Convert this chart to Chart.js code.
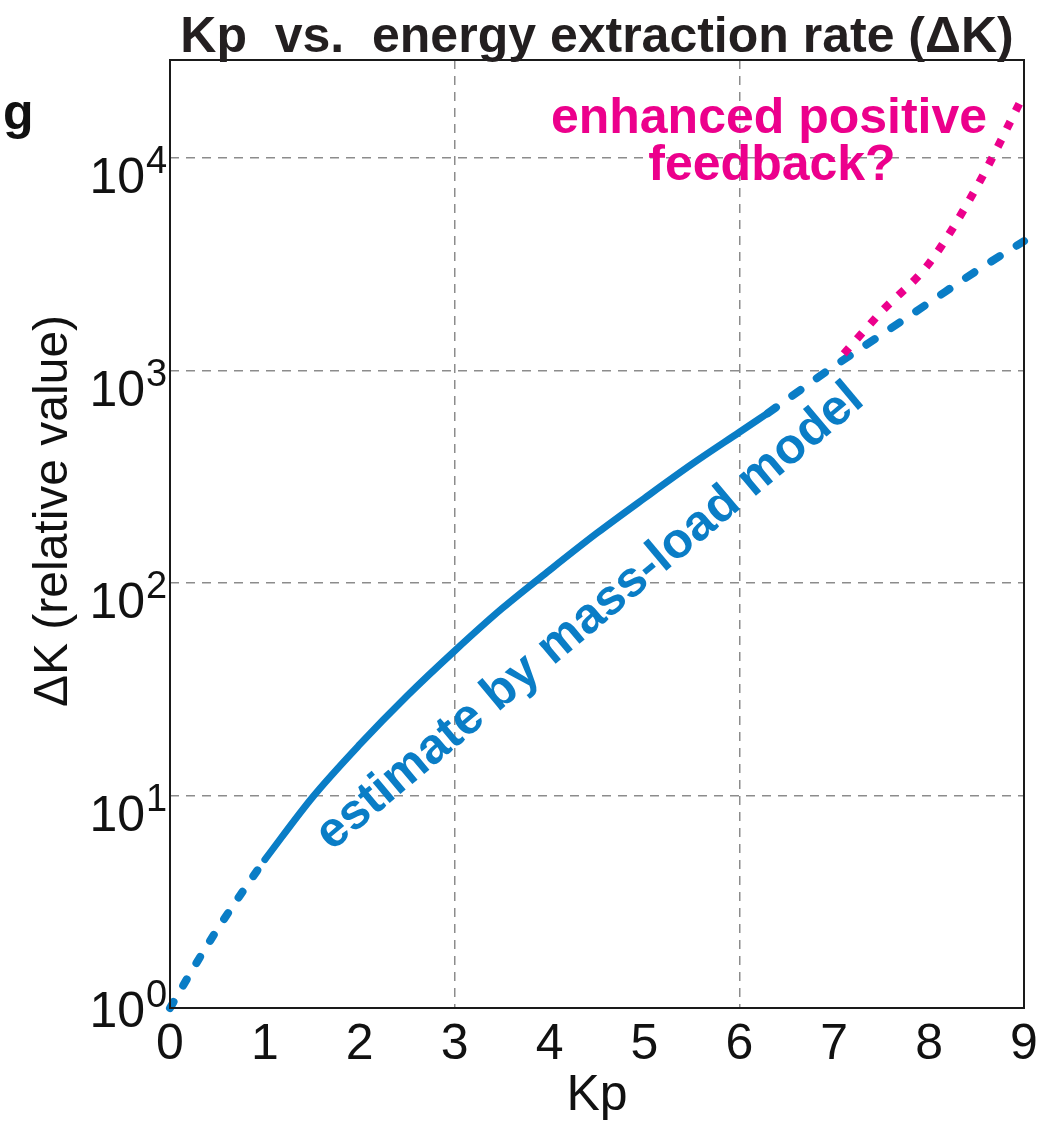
<!DOCTYPE html>
<html>
<head>
<meta charset="utf-8">
<title>Kp vs. energy extraction rate</title>
<script src="https://cdn.jsdelivr.net/npm/chart.js@4.4.1/dist/chart.umd.min.js"></script>
<style>
  html, body { margin: 0; padding: 0; background: #fff; }
  canvas { display: block; }
</style>
</head>
<body>
<canvas id="kpChart" width="1055" height="1121"></canvas>
<script>
/* Kp index vs. relative energy extraction rate dK (log axis) */
const KP_TICKS = [0, 1, 2, 3, 4, 5, 6, 7, 8, 9];
const DK_TICKS = [1, 10, 100, 1000, 10000];

// mass-load model estimate, split into its dashed / solid / dashed pieces
const KP_LOW  = [0, 0.25, 0.5, 0.75, 1.0];
const DK_LOW  = [1.0, 1.55, 2.35, 3.45, 5.0];
const KP_MID  = [1.0, 1.5, 2.0, 2.5, 3.0, 3.5, 4.0, 4.5, 5.0, 5.5, 6.0, 6.3];
const DK_MID  = [5.0, 9.8, 17.4, 29.5, 48, 76, 115, 172, 251, 363, 513, 631];
const KP_HIGH = [6.3, 7.0, 7.5, 8.0, 8.5, 9.0];
const DK_HIGH = [631, 1050, 1480, 2090, 2950, 4070];

// enhanced positive feedback branch
const KP_FEED = [7.1, 7.5, 8.0, 8.5, 9.0];
const DK_FEED = [1200, 1900, 3200, 7300, 20000];

const BLUE = "#0a7dc6";
const PINK = "#ec008c";
const GRID = "#8c8c8c";
const INK  = "#111";
const FONT = "'Liberation Sans', Arial, Helvetica, sans-serif";

const pts = (xs, ys) => xs.map((x, i) => ({ x, y: ys[i] }));
const line = (data, color, width, dash, cap) => ({
  data, borderColor: color, backgroundColor: color, borderWidth: width,
  borderDash: dash, borderCapStyle: cap, pointRadius: 0, pointHoverRadius: 0,
  cubicInterpolationMode: "monotone", fill: false, clip: false,
});

/* ---------- box, labels and annotations ---------- */
const decor = {
  id: "decor",
  afterDatasetsDraw(chart) {
    const { ctx, chartArea: a } = chart;
    ctx.save();
    ctx.strokeStyle = "#1a1a1a";
    ctx.lineWidth = 2;
    ctx.strokeRect(a.left, a.top, a.right - a.left, a.bottom - a.top);
    ctx.restore();
  },
  afterDraw(chart) {
    const { ctx, chartArea: a, scales: { y } } = chart;
    ctx.save();
    ctx.fillStyle = INK;

    // y tick labels as 10^n
    DK_TICKS.forEach(v => {
      const py = y.getPixelForValue(v);
      const base = Math.min(py + 35, a.bottom + 19);
      ctx.font = `50px ${FONT}`;
      ctx.textAlign = "right";
      ctx.textBaseline = "alphabetic";
      ctx.fillText("10", 145, base);
      ctx.font = `38px ${FONT}`;
      ctx.textAlign = "left";
      ctx.fillText(String(Math.round(Math.log10(v))), 146, base - 20);
    });

    // y axis title
    ctx.save();
    ctx.translate(67, 511);
    ctx.rotate(-Math.PI / 2);
    ctx.font = `48px ${FONT}`;
    ctx.textAlign = "center";
    ctx.textBaseline = "alphabetic";
    ctx.fillText("\u0394K (relative value)", 0, 0);
    ctx.restore();

    // title
    ctx.font = `bold 50px ${FONT}`;
    ctx.textAlign = "center";
    ctx.textBaseline = "alphabetic";
    ctx.fillStyle = "#231f20";
    ctx.fillText("Kp  vs.  energy extraction rate (\u0394K)", 597, 52);

    // panel letter
    ctx.textAlign = "left";
    ctx.fillStyle = INK;
    ctx.font = `bold 50px ${FONT}`;
    ctx.fillText("g", 3, 129);

    // annotations
    ctx.fillStyle = PINK;
    ctx.font = `bold 50px ${FONT}`;
    ctx.textAlign = "center";
    ctx.fillText("enhanced positive", 769, 133);
    ctx.fillText("feedback?", 772, 180);

    ctx.save();
    ctx.translate(590, 617);
    ctx.rotate(-40 * Math.PI / 180);
    ctx.fillStyle = BLUE;
    ctx.font = `bold 50px ${FONT}`;
    ctx.textAlign = "center";
    ctx.textBaseline = "middle";
    ctx.fillText("estimate by mass-load model", 0, 0);
    ctx.restore();

    ctx.restore();
  },
};

new Chart(document.getElementById("kpChart"), {
  type: "line",
  data: {
    datasets: [
      line(pts(KP_FEED, DK_FEED), PINK, 8, [8, 12], "butt"),
      line(pts(KP_LOW, DK_LOW), BLUE, 8, [7, 19], "round"),
      line(pts(KP_MID, DK_MID), BLUE, 7, [], "round"),
      line(pts(KP_HIGH, DK_HIGH), BLUE, 8, [10, 20], "round"),
    ],
  },
  options: {
    responsive: false,
    animation: false,
    layout: { padding: { top: 60, right: 31, left: 0, bottom: 0 } },
    plugins: { legend: { display: false }, tooltip: { enabled: false } },
    scales: {
      x: {
        type: "linear", min: 0, max: 9,
        afterBuildTicks: s => { s.ticks = KP_TICKS.map(value => ({ value })); },
        afterFit: s => { s.height = 113; },
        ticks: { color: INK, padding: 7, font: { family: FONT, size: 50 }, callback: v => String(v) },
        grid: {
          drawTicks: false, lineWidth: 1.5,
          color: c => (c.tick && (c.tick.value === 3 || c.tick.value === 6)) ? GRID : "rgba(0,0,0,0)",
        },
        border: { display: false, dash: [9, 7] },
        title: { display: true, text: "Kp", color: INK, padding: 0, font: { family: FONT, size: 50, lineHeight: 1 } },
      },
      y: {
        type: "logarithmic", min: 1, max: 29000,
        afterBuildTicks: s => { s.ticks = DK_TICKS.map(value => ({ value })); },
        afterFit: s => { s.width = 170; },
        ticks: { display: false },
        grid: {
          drawTicks: false, lineWidth: 1.5,
          color: c => (c.tick && c.tick.value > 1) ? GRID : "rgba(0,0,0,0)",
        },
        border: { display: false, dash: [9, 7] },
      },
    },
  },
  plugins: [decor],
});
</script>
</body>
</html>
